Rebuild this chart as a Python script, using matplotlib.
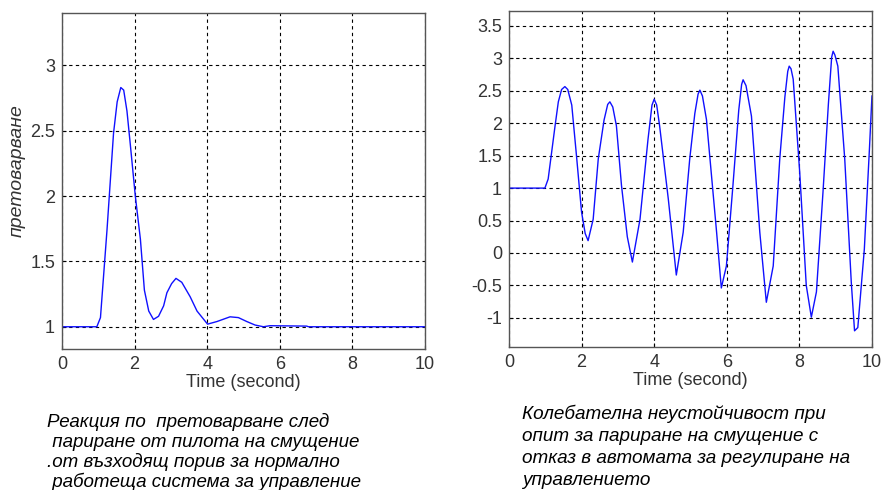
import numpy as np
import matplotlib.pyplot as plt

# Данни: ляв график (нормална система)
t_left = [0, 0.96, 1.06, 1.24, 1.42, 1.52, 1.62, 1.70, 1.79, 1.88, 2.02, 2.16, 2.27, 2.39, 2.52,
          2.66, 2.80, 2.89, 3.02, 3.14, 3.30, 3.53, 3.72, 4.01, 4.27, 4.63, 4.86, 5.09, 5.32,
          5.55, 5.73, 6.74, 6.79, 10]
y_left = [1.0, 1.0, 1.07, 1.74, 2.48, 2.72, 2.83, 2.81, 2.65, 2.40, 2.0, 1.67, 1.28, 1.12, 1.056,
          1.08, 1.16, 1.26, 1.33, 1.37, 1.34, 1.23, 1.12, 1.02, 1.04, 1.076, 1.07, 1.04, 1.013,
          1.0, 1.008, 1.005, 1.0, 1.0]

# Данни: десен график (отказ в автомата)
t_right = [0, 0.99, 1.08, 1.27, 1.36, 1.45, 1.54, 1.62, 1.73, 1.86, 2.00, 2.10, 2.18, 2.32, 2.46,
           2.62, 2.72, 2.78, 2.86, 2.96, 3.10, 3.26, 3.40, 3.61, 3.83, 3.94, 4.00, 4.07, 4.15,
           4.39, 4.61, 4.80, 4.98, 5.12, 5.21, 5.26, 5.33, 5.44, 5.72, 5.85, 5.99, 6.17, 6.33,
           6.41, 6.45, 6.53, 6.68, 6.91, 7.09, 7.28, 7.46, 7.60, 7.68, 7.72, 7.77, 7.83, 8.01,
           8.19, 8.33, 8.47, 8.65, 8.80, 8.89, 8.93, 8.98, 9.06, 9.25, 9.43, 9.52, 9.61, 9.79,
           9.93, 10.0]
y_right = [1.0, 1.0, 1.14, 1.96, 2.33, 2.52, 2.565, 2.52, 2.28, 1.50, 0.63, 0.30, 0.19, 0.52, 1.45,
           2.05, 2.29, 2.33, 2.25, 1.96, 1.04, 0.25, -0.14, 0.52, 1.75, 2.28, 2.37, 2.28, 1.96,
           0.83, -0.34, 0.32, 1.45, 2.15, 2.45, 2.51, 2.42, 2.06, 0.32, -0.54, -0.20, 1.04, 2.20,
           2.60, 2.67, 2.58, 2.11, 0.32, -0.76, -0.20, 1.45, 2.40, 2.80, 2.88, 2.84, 2.68, 1.24,
           -0.50, -0.99, -0.60, 0.93, 2.30, 3.02, 3.11, 3.05, 2.88, 1.45, -0.45, -1.20, -1.15, 0.06,
           1.60, 2.42]

xticks = [0, 2, 4, 6, 8, 10]
yticks_left = [1, 1.5, 2, 2.5, 3]
yticks_right = [-1, -0.5, 0, 0.5, 1, 1.5, 2, 2.5, 3, 3.5]

caption_left = ['Реакция по  претоварване след',
                ' париране от пилота на смущение',
                '.от възходящ порив за нормално',
                ' работеща система за управление']
caption_right = ['Колебателна неустойчивост при',
                 'опит за париране на смущение с',
                 'отказ в автомата за регулиране на',
                 'управлението']

plt.rcParams['font.family'] = ['Liberation Sans', 'DejaVu Sans']

fig = plt.figure(figsize=(8.83, 4.9), dpi=100)
ax1 = fig.add_axes([0.0702, 0.2878, 0.4111, 0.6857])
ax2 = fig.add_axes([0.5764, 0.2918, 0.4111, 0.6857])


def style(ax, yticks, ylim):
    ax.set_xlim(0, 10)
    ax.set_ylim(*ylim)
    ax.set_xticks(xticks)
    ax.set_yticks(yticks)
    ax.set_yticklabels([('%g' % v) for v in yticks])
    ax.grid(True, color='black', linestyle=(0, (3, 3)), linewidth=0.8)
    ax.tick_params(direction='in', length=3, labelsize=13, labelcolor='#333333', pad=5)
    for s in ax.spines.values():
        s.set_color('#555555')
        s.set_linewidth(1.0)
    ax.set_xlabel('Time (second)', fontsize=13, color='#333333', labelpad=1)


ax1.plot(t_left, y_left, color='#1010ff', linewidth=1.0)
style(ax1, yticks_left, (0.83, 3.40))
ax2.plot(t_right, y_right, color='#1010ff', linewidth=1.0)
style(ax2, yticks_right, (-1.45, 3.73))

fig.text(0.020, 0.651, 'претоварване', rotation=90, style='italic', fontsize=14,
         color='#333333', ha='center', va='center')

for i, line in enumerate(caption_left):
    fig.text(47 / 883, 1 - (422 + i * 20) / 490, line, style='italic', fontsize=13.5,
             color='black', ha='left', va='center')
for i, line in enumerate(caption_right):
    fig.text(522 / 883, 1 - (414 + i * 22.3) / 490, line, style='italic', fontsize=13.6,
             color='black', ha='left', va='center')

fig.savefig('out.png', dpi=100)
